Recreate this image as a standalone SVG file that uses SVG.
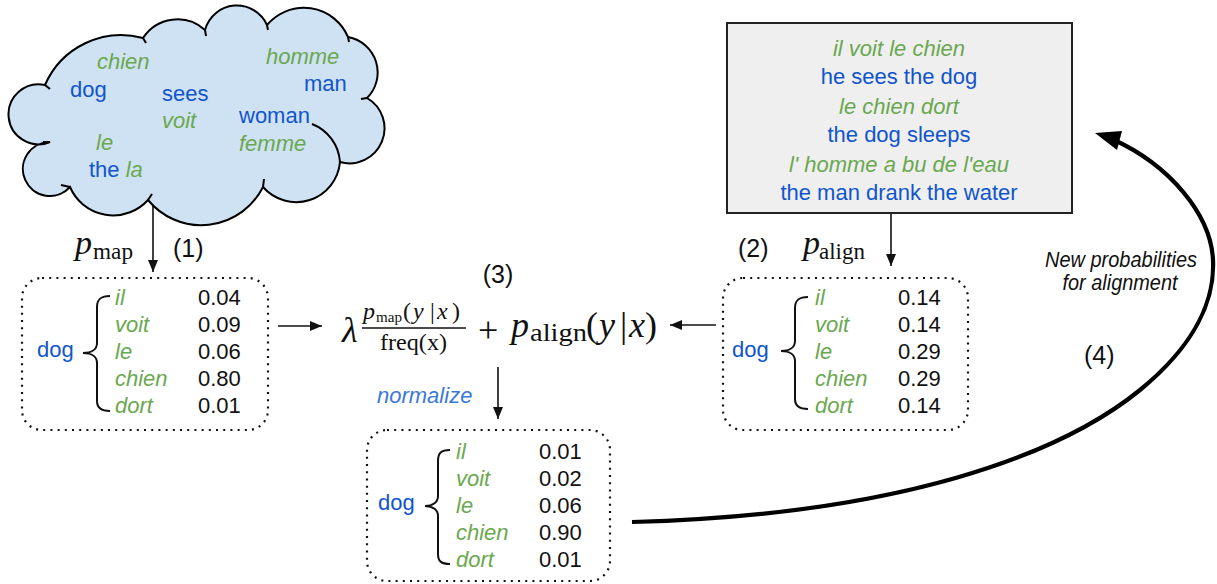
<svg xmlns="http://www.w3.org/2000/svg" width="1217" height="584" viewBox="0 0 1217 584">
<style>
.t{font-family:"Liberation Sans",Arial,sans-serif;font-size:22px}
.n{font-family:"Liberation Sans",Arial,sans-serif;font-size:25px;fill:#111}
.g{fill:#6aa84f;font-style:italic}
.b{fill:#1155cc}
.k{fill:#111}
.m{font-family:"Liberation Serif","Times New Roman",serif;fill:#111}
.i{font-style:italic}
.dot{fill:none;stroke:#111;stroke-width:2.2;stroke-dasharray:2 5.2}
.br{fill:none;stroke:#111;stroke-width:2}
.ln{fill:none;stroke:#111;stroke-width:1.6}
.cl{fill:none;stroke:#000;stroke-width:2}
</style>
<defs>
<marker id="ah" markerUnits="userSpaceOnUse" markerWidth="12" markerHeight="10" refX="12" refY="5" orient="auto">
<path d="M0,0 L12,5 L0,10 z" fill="#111"/>
</marker>
</defs>

<g id="connectors">
<line class="ln" x1="153" y1="205" x2="153" y2="272" marker-end="url(#ah)"/>
<line class="ln" x1="891" y1="213" x2="891" y2="266" marker-end="url(#ah)"/>
<line class="ln" x1="278" y1="326" x2="322" y2="326" marker-end="url(#ah)"/>
<line class="ln" x1="716" y1="325" x2="670" y2="325" marker-end="url(#ah)"/>
<line class="ln" x1="498" y1="367" x2="498" y2="419" marker-end="url(#ah)"/>
<path d="M632 522 C900 515,1060 455,1140 390 C1195 345,1215 300,1213 260 C1211 215,1170 165,1112 139" fill="none" stroke="#000" stroke-width="4.2"/>
<polygon points="1095,133 1122,131 1117,150" fill="#000"/>
</g>

<g id="cloud">
<path d="M45 85 A83 83 0 0 1 143 38 A41 41 0 0 1 205 30 A33 33 0 0 1 267 25 A48 48 0 0 1 348 37 A36 36 0 0 1 367 98 A35 35 0 0 1 340 162 A44 44 0 0 1 263 187 A69 69 0 0 1 148 200 A47 47 0 0 1 70 187 A27 27 0 1 1 50 142 A30 30 0 1 1 45 85 Z" fill="#cfe2f3" stroke="#000" stroke-width="2"/>
<path class="cl" d="M312 124 A44 44 0 0 1 340 162"/>
<path class="cl" d="M263 187 L264 179"/>
<path class="cl" d="M148 200 L152 194"/>
<path class="cl" d="M70 187 L61 185"/>
<path class="cl" d="M50 142 L43 142"/>
<path class="cl" d="M45 85 L50 89"/>
<path class="cl" d="M143 38 L146 43"/>
<path class="cl" d="M205 30 L206 36"/>
<path class="cl" d="M267 25 L268 30"/>
<path class="cl" d="M348 37 L349 42"/>
<path class="cl" d="M367 98 L361 99"/>
<text class="t g" x="97" y="69">chien</text>
<text class="t b" x="70" y="97">dog</text>
<text class="t b" x="162" y="101">sees</text>
<text class="t g" x="162" y="128">voit</text>
<text class="t g" x="266" y="64">homme</text>
<text class="t b" x="304" y="91">man</text>
<text class="t b" x="239" y="123">woman</text>
<text class="t g" x="239" y="151">femme</text>
<text class="t g" x="96" y="150">le</text>
<text class="t" x="89" y="177"><tspan class="b">the</tspan> <tspan class="g">la</tspan></text>
</g>

<g id="corpus">
<rect x="727" y="23" width="345" height="190" fill="#efefef" stroke="#222" stroke-width="2"/>
<g text-anchor="middle">
<text class="t g" x="899" y="56">il voit le chien</text>
<text class="t b" x="899" y="84">he sees the dog</text>
<text class="t g" x="899" y="114">le chien dort</text>
<text class="t b" x="899" y="142">the dog sleeps</text>
<text class="t g" x="899" y="172">l' homme a bu de l'eau</text>
<text class="t b" x="899" y="200">the man drank the water</text>
</g>
</g>

<g id="label-map">
<text class="m i" x="75" y="254" font-size="34">p</text>
<text class="m" x="93" y="259" font-size="23" textLength="40" lengthAdjust="spacingAndGlyphs">map</text>
<text class="n" x="173" y="257">(1)</text>
</g>

<g id="label-align">
<text class="n" x="738" y="257">(2)</text>
<text class="m i" x="803" y="254" font-size="34">p</text>
<text class="m" x="819" y="259" font-size="23" textLength="46" lengthAdjust="spacingAndGlyphs">align</text>
</g>

<g id="table-map">
<rect class="dot" x="22" y="278" width="246" height="152" rx="20"/>
<text class="t b" x="37" y="357">dog</text>
<path class="br" d="M110 296 C101 296,97 299,97 307 L97 343 C97 349,92 353,83 353 C92 353,97 357,97 363 L97 401 C97 408,101 411,110 411"/>
<g class="t g">
<text x="115" y="305">il</text><text x="115" y="332">voit</text><text x="115" y="359">le</text><text x="115" y="386">chien</text><text x="115" y="413">dort</text>
</g>
<g class="t k">
<text x="198" y="305">0.04</text><text x="198" y="332">0.09</text><text x="198" y="359">0.06</text><text x="198" y="386">0.80</text><text x="198" y="413">0.01</text>
</g>
</g>

<g id="table-align">
<rect class="dot" x="723" y="278" width="245" height="152" rx="20"/>
<text class="t b" x="732" y="357">dog</text>
<path class="br" d="M808 297 C799 297,795 300,795 308 L795 341 C795 347,790 351,781 351 C790 351,795 355,795 361 L795 399 C795 406,799 409,808 409"/>
<g class="t g">
<text x="815" y="305">il</text><text x="815" y="332">voit</text><text x="815" y="359">le</text><text x="815" y="386">chien</text><text x="815" y="413">dort</text>
</g>
<g class="t k">
<text x="898" y="305">0.14</text><text x="898" y="332">0.14</text><text x="898" y="359">0.29</text><text x="898" y="386">0.29</text><text x="898" y="413">0.14</text>
</g>
</g>

<g id="formula">
<text class="n" x="498" y="283" text-anchor="middle">(3)</text>
<text class="m i" x="342" y="342" font-size="36">λ</text>
<text class="m i" x="363" y="319" font-size="24">p</text>
<text class="m" x="376" y="322" font-size="15" textLength="26" lengthAdjust="spacingAndGlyphs">map</text>
<text class="m" x="403" y="319" font-size="24">(</text>
<text class="m i" x="413" y="319" font-size="24">y</text>
<text class="m" x="430" y="319" font-size="24">|</text>
<text class="m i" x="437" y="319" font-size="24">x</text>
<text class="m" x="452" y="319" font-size="24">)</text>
<line x1="362" y1="328" x2="466" y2="328" stroke="#111" stroke-width="1.4"/>
<text class="m" x="380" y="350" font-size="24" textLength="67" lengthAdjust="spacingAndGlyphs">freq(x)</text>
<text class="m" x="478" y="342" font-size="36">+</text>
<text class="m i" x="511" y="337" font-size="36">p</text>
<text class="m" x="530" y="341" font-size="25" textLength="57" lengthAdjust="spacingAndGlyphs">align</text>
<text class="m" x="586" y="337" font-size="36">(</text>
<text class="m i" x="599" y="337" font-size="36">y</text>
<text class="m" x="620" y="337" font-size="36">|</text>
<text class="m i" x="629" y="337" font-size="36">x</text>
<text class="m" x="645" y="337" font-size="36">)</text>
<text class="t" x="377" y="403" fill="#3c78d8" font-style="italic" font-size="21">normalize</text>
</g>

<g id="table-norm">
<rect class="dot" x="367" y="430" width="243" height="151" rx="20"/>
<text class="t b" x="378" y="510">dog</text>
<path class="br" d="M450 450 C441 450,438 453,438 461 L438 496 C438 502,433 506,425 506 C433 506,438 510,438 516 L438 554 C438 561,441 564,450 564"/>
<g class="t g">
<text x="456" y="459">il</text><text x="456" y="486">voit</text><text x="456" y="513">le</text><text x="456" y="540">chien</text><text x="456" y="567">dort</text>
</g>
<g class="t k">
<text x="539" y="459">0.01</text><text x="539" y="486">0.02</text><text x="539" y="513">0.06</text><text x="539" y="540">0.90</text><text x="539" y="567">0.01</text>
</g>
</g>

<g id="label-feedback">
<text class="t k" x="1121" y="267" font-style="italic" font-size="18" text-anchor="middle" textLength="152" lengthAdjust="spacingAndGlyphs">New probabilities</text>
<text class="t k" x="1120" y="290" font-style="italic" font-size="18" text-anchor="middle" textLength="115" lengthAdjust="spacingAndGlyphs">for alignment</text>
<text class="n" x="1084" y="364">(4)</text>
</g>
</svg>
